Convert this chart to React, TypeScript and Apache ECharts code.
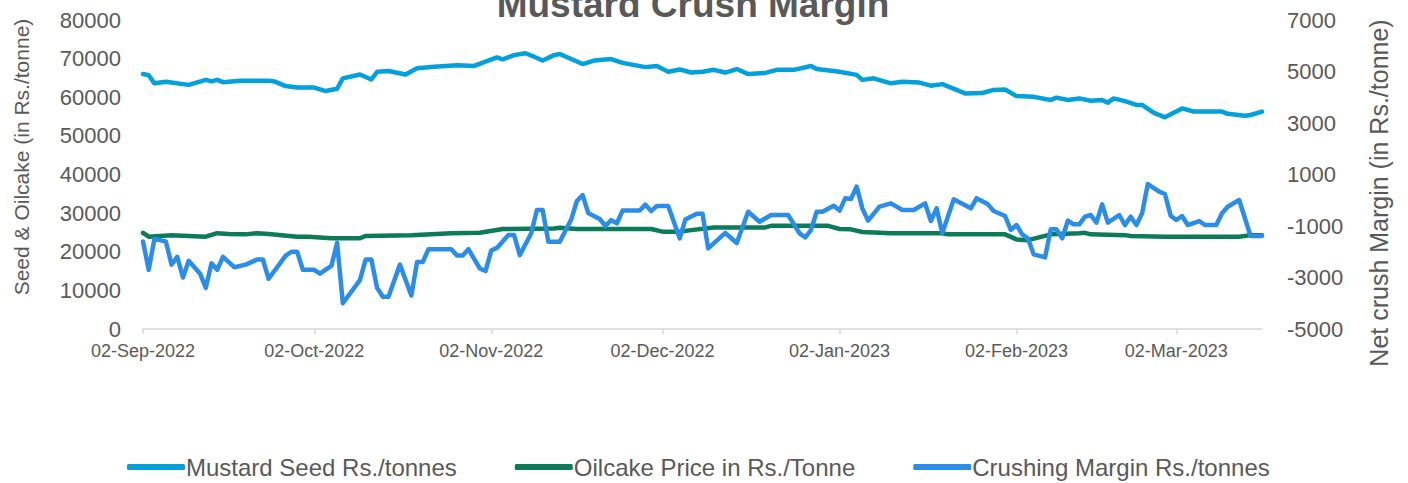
import React, { useEffect, useRef } from "react";
import * as echarts from "echarts";

const titleText = "Mustard Crush Margin";
const leftAxisName = "Seed & Oilcake (in Rs./tonne)";
const rightAxisName = "Net crush Margin (in Rs./tonne)";
const seriesNames = ["Mustard Seed Rs./tonnes", "Oilcake Price in Rs./Tonne", "Crushing Margin Rs./tonnes"];
const monthNames = ["Jan", "Feb", "Mar", "Apr", "May", "Jun", "Jul", "Aug", "Sep", "Oct", "Nov", "Dec"];
const firstDay = "2022-09-02";
const lastDay = "2023-03-17";

const seedData: [string, number][] = [
  ["2022-09-02", 66000], ["2022-09-03", 65700], ["2022-09-04", 63600], ["2022-09-06", 64000],
  ["2022-09-10", 63200], ["2022-09-13", 64500], ["2022-09-14", 64100], ["2022-09-15", 64500],
  ["2022-09-16", 63900], ["2022-09-19", 64300], ["2022-09-24", 64300], ["2022-09-25", 64100],
  ["2022-09-27", 62900], ["2022-09-29", 62500], ["2022-10-02", 62500], ["2022-10-04", 61600],
  ["2022-10-06", 62200], ["2022-10-07", 64900], ["2022-10-10", 65900], ["2022-10-12", 64600],
  ["2022-10-13", 66600], ["2022-10-15", 66800], ["2022-10-18", 65900], ["2022-10-20", 67500],
  ["2022-10-23", 67900], ["2022-10-27", 68300], ["2022-10-30", 68100], ["2022-11-01", 69200],
  ["2022-11-03", 70300], ["2022-11-04", 69800], ["2022-11-06", 70900], ["2022-11-08", 71400],
  ["2022-11-09", 70800], ["2022-11-11", 69500], ["2022-11-13", 70900], ["2022-11-14", 71200],
  ["2022-11-18", 68600], ["2022-11-20", 69500], ["2022-11-23", 69900], ["2022-11-25", 68900],
  ["2022-11-29", 67800], ["2022-12-01", 68100], ["2022-12-03", 66600], ["2022-12-05", 67200],
  ["2022-12-07", 66400], ["2022-12-09", 66600], ["2022-12-11", 67100], ["2022-12-13", 66400],
  ["2022-12-15", 67300], ["2022-12-17", 66000], ["2022-12-20", 66300], ["2022-12-22", 67100],
  ["2022-12-25", 67100], ["2022-12-28", 68100], ["2022-12-29", 67300], ["2023-01-02", 66600],
  ["2023-01-05", 65800], ["2023-01-06", 64500], ["2023-01-08", 64900], ["2023-01-11", 63600],
  ["2023-01-13", 64000], ["2023-01-16", 63800], ["2023-01-18", 63000], ["2023-01-20", 63400],
  ["2023-01-24", 61000], ["2023-01-27", 61100], ["2023-01-29", 61900], ["2023-01-31", 62000],
  ["2023-02-02", 60300], ["2023-02-05", 60100], ["2023-02-08", 59300], ["2023-02-09", 59900],
  ["2023-02-11", 59300], ["2023-02-13", 59700], ["2023-02-15", 59100], ["2023-02-17", 59300],
  ["2023-02-18", 58600], ["2023-02-19", 59700], ["2023-02-21", 59000], ["2023-02-23", 58000],
  ["2023-02-24", 58000], ["2023-02-26", 56000], ["2023-02-28", 54800], ["2023-03-03", 57100],
  ["2023-03-05", 56300], ["2023-03-10", 56300], ["2023-03-11", 55700], ["2023-03-14", 55200],
  ["2023-03-15", 55400], ["2023-03-17", 56300],
];

const oilcakeData: [string, number][] = [
  ["2022-09-02", 24900], ["2022-09-03", 23900], ["2022-09-07", 24300], ["2022-09-13", 23900],
  ["2022-09-15", 24800], ["2022-09-17", 24600], ["2022-09-20", 24500], ["2022-09-22", 24800],
  ["2022-09-24", 24600], ["2022-09-29", 23900], ["2022-10-01", 23900], ["2022-10-05", 23500],
  ["2022-10-10", 23500], ["2022-10-11", 24100], ["2022-10-19", 24300], ["2022-10-26", 24800],
  ["2022-10-31", 24900], ["2022-11-04", 25900], ["2022-11-13", 26000], ["2022-11-14", 26200],
  ["2022-11-17", 25900], ["2022-11-30", 25900], ["2022-12-02", 25200], ["2022-12-05", 25200],
  ["2022-12-07", 25600], ["2022-12-11", 26300], ["2022-12-20", 26300], ["2022-12-21", 26700],
  ["2022-12-31", 26700], ["2023-01-02", 25900], ["2023-01-04", 25800], ["2023-01-06", 25100],
  ["2023-01-08", 25000], ["2023-01-11", 24800], ["2023-01-20", 24800], ["2023-01-21", 24500],
  ["2023-01-31", 24500], ["2023-02-02", 23200], ["2023-02-04", 23000], ["2023-02-07", 24100],
  ["2023-02-08", 24500], ["2023-02-13", 24800], ["2023-02-14", 24900], ["2023-02-15", 24500],
  ["2023-02-21", 24300], ["2023-02-22", 24100], ["2023-02-28", 23900], ["2023-03-13", 23900],
  ["2023-03-15", 24300], ["2023-03-17", 24300],
];

const marginData: [string, number][] = [
  ["2022-09-02", -1600], ["2022-09-03", -2700], ["2022-09-04", -1500], ["2022-09-05", -1550],
  ["2022-09-06", -1600], ["2022-09-07", -2500], ["2022-09-08", -2200], ["2022-09-09", -3000],
  ["2022-09-10", -2350], ["2022-09-12", -2850], ["2022-09-13", -3400], ["2022-09-14", -2450],
  ["2022-09-15", -2700], ["2022-09-16", -2200], ["2022-09-18", -2600], ["2022-09-20", -2500],
  ["2022-09-22", -2300], ["2022-09-23", -2300], ["2022-09-24", -3050], ["2022-09-27", -2150],
  ["2022-09-28", -2000], ["2022-09-29", -2000], ["2022-09-30", -2700], ["2022-10-02", -2700],
  ["2022-10-03", -2850], ["2022-10-05", -2550], ["2022-10-06", -1650], ["2022-10-07", -4000],
  ["2022-10-10", -3100], ["2022-10-11", -2300], ["2022-10-12", -2300], ["2022-10-13", -3400],
  ["2022-10-14", -3750], ["2022-10-15", -3750], ["2022-10-17", -2500], ["2022-10-18", -3100],
  ["2022-10-19", -3700], ["2022-10-20", -2400], ["2022-10-21", -2400], ["2022-10-22", -1900],
  ["2022-10-26", -1900], ["2022-10-27", -2150], ["2022-10-28", -2150], ["2022-10-29", -1900],
  ["2022-10-31", -2650], ["2022-11-01", -2750], ["2022-11-02", -1950], ["2022-11-03", -1850],
  ["2022-11-05", -1350], ["2022-11-06", -1350], ["2022-11-07", -2130], ["2022-11-09", -1280],
  ["2022-11-10", -380], ["2022-11-11", -380], ["2022-11-12", -1610], ["2022-11-14", -1610],
  ["2022-11-16", -750], ["2022-11-17", -30], ["2022-11-18", 200], ["2022-11-19", -500],
  ["2022-11-21", -730], ["2022-11-22", -1000], ["2022-11-23", -770], ["2022-11-24", -900],
  ["2022-11-25", -400], ["2022-11-28", -400], ["2022-11-29", -170], ["2022-11-30", -420],
  ["2022-12-01", -220], ["2022-12-03", -220], ["2022-12-05", -1480], ["2022-12-06", -750],
  ["2022-12-08", -520], ["2022-12-09", -520], ["2022-12-10", -1870], ["2022-12-13", -1270],
  ["2022-12-15", -1660], ["2022-12-17", -445], ["2022-12-18", -640], ["2022-12-19", -833],
  ["2022-12-21", -573], ["2022-12-24", -573], ["2022-12-26", -1284], ["2022-12-27", -1440],
  ["2022-12-28", -1156], ["2022-12-29", -445], ["2022-12-30", -445], ["2023-01-01", -211],
  ["2023-01-02", -405], ["2023-01-03", 74], ["2023-01-04", 50], ["2023-01-05", 527],
  ["2023-01-06", -314], ["2023-01-07", -793], ["2023-01-09", -250], ["2023-01-11", -120],
  ["2023-01-13", -379], ["2023-01-15", -379], ["2023-01-17", -120], ["2023-01-18", -806],
  ["2023-01-19", -314], ["2023-01-20", -1284], ["2023-01-22", 35], ["2023-01-25", -314],
  ["2023-01-26", 74], ["2023-01-28", -159], ["2023-01-29", -418], ["2023-01-31", -612],
  ["2023-02-01", -1156], ["2023-02-02", -962], ["2023-02-03", -1324], ["2023-02-04", -1479],
  ["2023-02-05", -2101], ["2023-02-07", -2217], ["2023-02-08", -1130], ["2023-02-09", -1130],
  ["2023-02-10", -1479], ["2023-02-11", -793], ["2023-02-12", -936], ["2023-02-13", -936],
  ["2023-02-14", -638], ["2023-02-15", -573], ["2023-02-16", -871], ["2023-02-17", -159],
  ["2023-02-18", -871], ["2023-02-20", -573], ["2023-02-21", -962], ["2023-02-22", -638],
  ["2023-02-23", -962], ["2023-02-24", -508], ["2023-02-25", 630], ["2023-02-27", 332],
  ["2023-02-28", 242], ["2023-03-01", -599], ["2023-03-02", -767], ["2023-03-03", -612],
  ["2023-03-04", -962], ["2023-03-06", -806], ["2023-03-07", -962], ["2023-03-09", -962],
  ["2023-03-10", -508], ["2023-03-11", -250], ["2023-03-13", 9], ["2023-03-15", -1389],
  ["2023-03-17", -1389],
];

const leftTicks = { min: 0, max: 80000, interval: 10000 };
const rightTicks = { min: -5000, max: 7000, interval: 2000 };

function buildDays(): string[] {
  const out: string[] = [];
  const d = new Date(firstDay + "T00:00:00Z");
  const end = new Date(lastDay + "T00:00:00Z").getTime();
  while (d.getTime() <= end) {
    out.push(d.toISOString().slice(0, 10));
    d.setUTCDate(d.getUTCDate() + 1);
  }
  return out;
}

function fmtDate(v: string): string {
  const [y, m, dd] = v.split("-");
  return dd + "-" + monthNames[parseInt(m, 10) - 1] + "-" + y;
}

const isTickDay = (_i: number, v: string) => v.slice(8, 10) === "02";

export default function App() {
  const ref = useRef<HTMLDivElement>(null);
  useEffect(() => {
    document.body.style.margin = "0";
    if (!ref.current) return;
    const chart = echarts.init(ref.current, null, { renderer: "svg" });
    const font = "'Liberation Sans', Arial, sans-serif";
    const gray = "#595959";
    const colors = ["#03A1DB", "#0B7B58", "#2A8DEA"];
    const days = buildDays();
    const lineStyle = (c: string) => ({ color: c, width: 4.5, cap: "round", join: "round" });
    chart.setOption({
      animation: false,
      textStyle: { fontFamily: font },
      color: colors,
      graphic: [
        {
          type: "text",
          x: 693,
          y: -14,
          style: {
            text: titleText,
            fill: gray,
            font: "bold 37px " + font,
            textAlign: "center",
            textVerticalAlign: "top",
          },
        },
        {
          type: "text",
          x: 21,
          y: 157,
          rotation: Math.PI / 2,
          style: {
            text: leftAxisName,
            fill: gray,
            font: "21px " + font,
            textAlign: "center",
            textVerticalAlign: "middle",
          },
        },
        {
          type: "text",
          x: 1379,
          y: 193,
          rotation: Math.PI / 2,
          style: {
            text: rightAxisName,
            fill: gray,
            font: "25px " + font,
            textAlign: "center",
            textVerticalAlign: "middle",
          },
        },
      ],
      grid: { left: 143, right: 146, top: 20, bottom: 154, containLabel: false },
      legend: {
        top: 455,
        left: 127,
        padding: 0,
        itemWidth: 58,
        itemHeight: 6,
        itemGap: 58,
        icon: "roundRect",
        textStyle: { color: gray, fontSize: 24, fontFamily: font, padding: [0, 0, 0, -4] },
        data: seriesNames,
      },
      xAxis: {
        type: "category",
        data: days,
        boundaryGap: false,
        axisLine: { lineStyle: { color: "#D9D9D9", width: 1.5 } },
        axisTick: { interval: isTickDay, length: 5, lineStyle: { color: "#D9D9D9", width: 1.5 } },
        axisLabel: {
          interval: isTickDay,
          formatter: (v: string) => fmtDate(v),
          color: gray,
          fontSize: 18,
          margin: 13,
          fontFamily: font,
        },
        splitLine: { show: false },
      },
      yAxis: [
        {
          type: "value",
          ...leftTicks,
          axisLine: { show: false },
          axisTick: { show: false },
          splitLine: { show: false },
          axisLabel: { color: gray, fontSize: 22, margin: 22, fontFamily: font, formatter: (v: number) => String(v) },
        },
        {
          type: "value",
          ...rightTicks,
          axisLine: { show: false },
          axisTick: { show: false },
          splitLine: { show: false },
          axisLabel: { color: gray, fontSize: 22, margin: 25, fontFamily: font, formatter: (v: number) => String(v) },
        },
      ],
      series: [
        { name: seriesNames[0], type: "line", yAxisIndex: 0, data: seedData, showSymbol: false, symbol: "none", lineStyle: lineStyle(colors[0]) },
        { name: seriesNames[1], type: "line", yAxisIndex: 0, data: oilcakeData, showSymbol: false, symbol: "none", lineStyle: lineStyle(colors[1]) },
        { name: seriesNames[2], type: "line", yAxisIndex: 1, data: marginData, showSymbol: false, symbol: "none", lineStyle: lineStyle(colors[2]) },
      ],
    });
    return () => chart.dispose();
  }, []);
  return <div ref={ref} style={{ width: 1408, height: 483 }} />;
}
